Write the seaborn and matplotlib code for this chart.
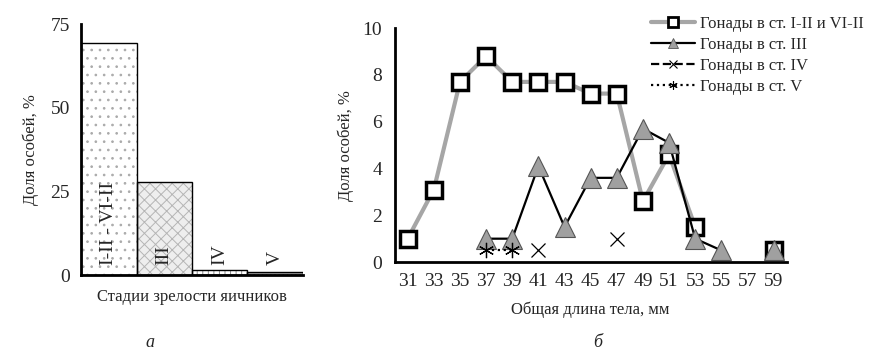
import numpy as np
import pandas as pd
import matplotlib
matplotlib.use("Agg")
import matplotlib.pyplot as plt
import seaborn as sns
from matplotlib.lines import Line2D

# Panel a: share of females by ovary maturity stage
stages = ["I-II - VI-II", "III", "IV", "V"]
stage_share = [69.5, 27.8, 1.6, 1.0]

# Panel b: share by body length
lengths = [31, 33, 35, 37, 39, 41, 43, 45, 47, 49, 51, 53, 55, 57, 59]
st_1_2 = [1.0, 3.1, 7.7, 8.8, 7.7, 7.7, 7.7, 7.2, 7.2, 2.6, 4.6, 1.5, np.nan, np.nan, 0.5]
st_3 = [np.nan, np.nan, np.nan, 1.0, 1.0, 4.1, 1.5, 3.6, 3.6, 5.7, 5.1, 1.0, 0.5, np.nan, 0.5]
st_4 = [np.nan, np.nan, np.nan, np.nan, np.nan, 0.5, np.nan, np.nan, 1.0, np.nan, np.nan, np.nan, np.nan, np.nan, np.nan]
st_5 = [np.nan, np.nan, np.nan, 0.5, 0.5, np.nan, np.nan, np.nan, np.nan, np.nan, np.nan, np.nan, np.nan, np.nan, np.nan]

labels_b = ["Гонады в ст. I-II и VI-II", "Гонады в ст. III",
            "Гонады в ст. IV", "Гонады в ст. V"]

sns.set_style("white")
plt.rcParams["font.family"] = ["Liberation Serif", "DejaVu Serif"]
plt.rcParams["hatch.linewidth"] = 0.7
FS = 12      # axis labels, legend
TFS = 14     # tick labels

fig = plt.figure(figsize=(8.77, 3.6), dpi=100)

# ---------- panel a ----------
ax1 = fig.add_axes([0.0924, 0.236, 0.253, 0.697])
df_a = pd.DataFrame({"stage": stages, "share": stage_share})
fills = ["white", "#eeeeee", "white", "#a0a0a0"]
hatches = ["..", "xxx", "+++", "...."]
hatch_cols = ["#aaaaaa", "#b5b5b5", "#8a8a8a", "#555555"]

sns.barplot(data=df_a, x="stage", y="share", width=1.0, ax=ax1,
            color="white", linewidth=0)
for p, fc, h, hc in zip(ax1.patches, fills, hatches, hatch_cols):
    p.set_facecolor(fc)
    p.set_hatch(h)
    p.set_edgecolor(hc)
    p.set_linewidth(0)
# outline pass
sns.barplot(data=df_a, x="stage", y="share", width=1.0, ax=ax1,
            fill=False, edgecolor="black", linewidth=1.0)

for i, s in enumerate(stages):
    ax1.text(i, 3.0, s, rotation=90, ha="center", va="bottom", fontsize=TFS)

ax1.set_xlim(-0.5, 3.5)
ax1.set_ylim(0, 75)
ax1.set_yticks([0, 25, 50, 75])
ax1.set_xticks([])
ax1.tick_params(axis="y", direction="in", length=5, width=1.5, labelsize=TFS, pad=8)
ax1.set_xlabel("Стадии зрелости яичников", fontsize=FS, labelpad=10)
ax1.set_ylabel("Доля особей, %", fontsize=FS, labelpad=8)
sns.despine(ax=ax1)
for sp in ["left", "bottom"]:
    ax1.spines[sp].set_linewidth(2)
    ax1.spines[sp].set_color("black")

# ---------- panel b ----------
ax2 = fig.add_axes([0.450, 0.272, 0.447, 0.650])


def draw(vals, **kw):
    d = pd.DataFrame({"x": lengths, "y": vals})
    d["run"] = d["y"].isna().cumsum()
    d = d.dropna()
    sns.lineplot(data=d, x="x", y="y", units="run", estimator=None,
                 ax=ax2, legend=False, **kw)


draw(st_1_2, color="#a6a6a6", linewidth=3, marker="s", markersize=12,
     markerfacecolor="white", markeredgecolor="black", markeredgewidth=2.5)
draw(st_3, color="black", linewidth=1.6, marker="^", markersize=15,
     markerfacecolor="#a0a0a0", markeredgecolor="#555555", markeredgewidth=0.8)
draw(st_4, color="black", linewidth=1.6, linestyle="--", marker="x",
     markersize=10, markeredgecolor="black", markeredgewidth=0.9)
draw(st_5, color="black", linewidth=1.6, linestyle=":", marker=(6, 2, 0),
     markersize=11, markeredgecolor="black", markeredgewidth=0.9)

ax2.set_xlim(30, 60)
ax2.set_ylim(0, 10)
ax2.set_xticks(lengths)
ax2.set_xticklabels([str(v) for v in lengths])
ax2.set_xticks(np.arange(30, 61, 2), minor=True)
ax2.tick_params(axis="x", which="major", length=0, labelsize=TFS, pad=8)
ax2.tick_params(axis="x", which="minor", direction="out", length=5, width=1.5)
ax2.set_yticks([0, 2, 4, 6, 8, 10])
ax2.tick_params(axis="y", direction="out", length=5, width=1.5, labelsize=TFS, pad=4)
ax2.set_xlabel("Общая длина тела, мм", fontsize=FS, labelpad=8)
ax2.set_ylabel("Доля особей, %", fontsize=FS, labelpad=6)
sns.despine(ax=ax2)
for sp in ["left", "bottom"]:
    ax2.spines[sp].set_linewidth(2)
    ax2.spines[sp].set_color("black")

handles = [
    Line2D([], [], color="#a6a6a6", linewidth=3, marker="s", markersize=7,
           markerfacecolor="white", markeredgecolor="black", markeredgewidth=2),
    Line2D([], [], color="black", linewidth=1.6, marker="^", markersize=7,
           markerfacecolor="#a0a0a0", markeredgecolor="#555555", markeredgewidth=0.6),
    Line2D([], [], color="black", linewidth=1.6, linestyle="--", marker="x",
           markersize=6, markeredgewidth=0.8),
    Line2D([], [], color="black", linewidth=1.6, linestyle=":", marker=(6, 2, 0),
           markersize=6, markeredgewidth=0.8),
]
fig.legend(handles, labels_b, loc="upper left", bbox_to_anchor=(0.735, 0.975),
           frameon=False, fontsize=FS, handlelength=2.6, handletextpad=0.3,
           labelspacing=0.3, borderaxespad=0)

fig.text(0.171, 0.035, "а", fontsize=FS + 1, style="italic", ha="center")
fig.text(0.681, 0.035, "б", fontsize=FS + 1, style="italic", ha="center")

fig.savefig("out.png", dpi=100)
